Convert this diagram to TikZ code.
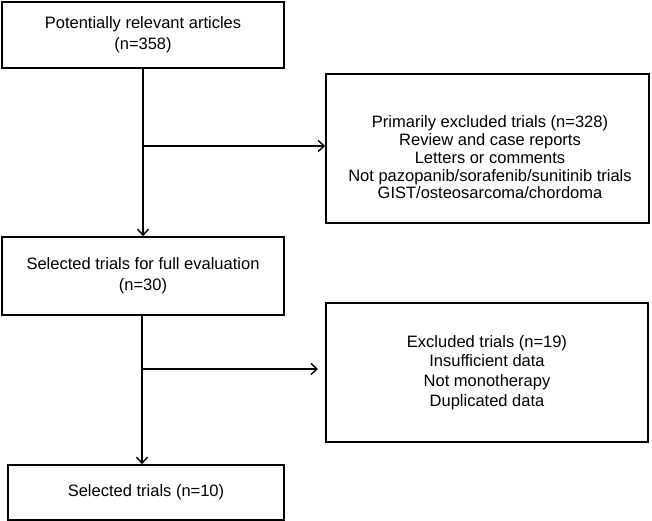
\documentclass[tikz,border=0pt]{standalone}
\usepackage{fontspec}
\setmainfont{Liberation Sans}
\usetikzlibrary{arrows.meta}
\begin{document}
\begin{tikzpicture}[x=1pt,y=-1pt,
  box/.style={draw=black,line width=1.6pt,inner sep=0pt,align=center,
    font=\fontsize{16.5}{21}\selectfont},
  txt/.style={inner sep=0pt,align=center},
  arr/.style={line width=1.6pt,-{Straight Barb[length=6pt,width=11pt,line width=1.4pt]}}]
\useasboundingbox (0,0) rectangle (652,521);
\node[box,minimum width=282pt,minimum height=66pt] (b1) at (143,35) {Potentially relevant articles\\(n=358)};
\node[box,minimum width=323pt,minimum height=149pt] (b2) at (487.5,148.5) {};
\node[txt,font=\fontsize{16.5}{17.8}\selectfont] (t2) at (490,157.5) {Primarily excluded trials (n=328)\\Review and case reports\\Letters or comments\\Not pazopanib/sorafenib/sunitinib trials\\GIST/osteosarcoma/chordoma};
\node[box,minimum width=282pt,minimum height=78pt] (b3) at (143,276) {Selected trials for full evaluation\\(n=30)};
\node[box,minimum width=322pt,minimum height=139pt,font=\fontsize{16.5}{19.7}\selectfont] (b4) at (487,372.5) {Excluded trials (n=19)\\Insufficient data\\Not monotherapy\\Duplicated data};
\node[box,minimum width=276pt,minimum height=55pt] (b5) at (146,492.5) {Selected trials (n=10)};
\coordinate (j1) at (143,146);
\coordinate (j2) at (142,369);
\coordinate (e2) at (318,369);
\draw[arr] (b1.south) -- (b3.north);
\draw[arr] (j1) -- (j1 -| b2.west);
\draw[arr] (b3.south -| j2) -- (b5.north -| j2);
\draw[arr] (j2) -- (e2);
\end{tikzpicture}
\end{document}
